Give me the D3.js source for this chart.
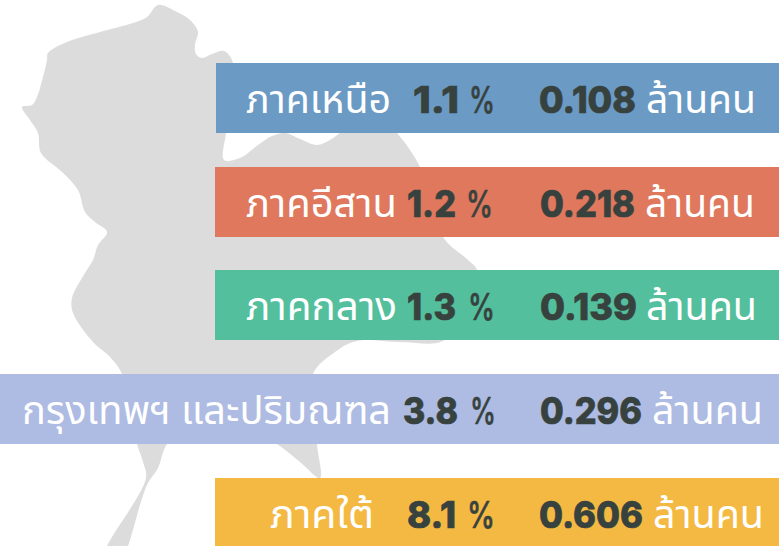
<!DOCTYPE html>
<html>
<head>
<meta charset="utf-8">
<script src="https://cdn.jsdelivr.net/npm/d3@7"></script>
<style>
html, body { margin: 0; padding: 0; background: #fff; }
svg { display: block; }
</style>
</head>
<body>
<div id="chart"></div>
<script>
// values
const regions = ["ภาคเหนือ", "ภาคอีสาน", "ภาคกลาง", "กรุงเทพฯ และปริมณฑล", "ภาคใต้"]
const percents = ["1.1", "1.2", "1.3", "3.8", "8.1"]
const millions = ["0.108", "0.218", "0.139", "0.296", "0.606"]
const colors = ["#6b9ac4", "#df785c", "#53bf9d", "#aebbe2", "#f4b942"]
const unitLabel = "ล้านคน"

// background silhouette of the country
const outline = [[158,5],[175,11],[190,20],[198,32],[195,44],[196,54],[202,58],[212,54],[224,51],[232,60],
    [234,80],[229,110],[226,133],[224,160],[240,158],[258,145],[272,136],[285,133],[300,139],[317,145],[330,140],[343,131],
    [365,120],[385,122],[397,133],[420,167],[443,237],[468,260],[477,270],[470,310],[443,341],[400,342],[357,341],
    [335,352],[313,374],[316,410],[317,444],[320,478],[300,462],[277,444],[240,425],[190,425],[167,444],[158,468],[147,485],
    [128,546],[120,565],[100,565],[107,546],[146,478],[143,462],[137,444],[125,395],[122,374],[110,357],[93,342],[73,313],[72,298],[85,273],
    [93,260],[98,245],[107,232],[95,222],[85,212],[78,190],[62,172],[41,153],[38,133],[30,120],[22,107],[32,105],[37,97],[43,77],[47,60],[48,53],[67,42],[100,32],[133,23],[147,17]]

// horizontal extents of each text, per row
const barLeft = [216, 215, 215, 0, 215]
const labelX = [[246, 391], [246, 397], [246, 397], [22, 391], [270, 374]]
const pctX = [[413, 459], [407, 456], [407, 456], [403, 458], [407, 456]]
const signX = [[469, 495], [466, 493], [468, 495], [470, 496], [467, 495]]
const millX = [[539, 636], [540, 635], [540, 637], [540, 642], [539, 643]]
const unitX = [[646, 756], [645, 755], [646, 757], [652, 763], [653, 764]]

const width = 779, height = 546
const barHeight = 70
const thaiFont = "'Noto Sans Thai', 'Noto Sans', 'DejaVu Sans', sans-serif"
const numFont = "Inter, sans-serif"

const svg = d3.select("#chart").append("svg")
    .attr("width", width)
    .attr("height", height)

svg.append("path")
    .attr("d", d3.line().curve(d3.curveCatmullRomClosed.alpha(0.5))(outline))
    .attr("fill", "#dcdcdc")

const y = d3.scaleBand()
    .domain(regions)
    .range([63, 63 + 4 * 103.7 + barHeight])
    .paddingInner(1 - barHeight / 103.7)
    .paddingOuter(0)
    .align(0)

const rows = svg.selectAll(".row")
    .data(regions)
    .enter().append("g")
    .attr("class", "row")

rows.append("rect")
    .attr("x", (d, i) => barLeft[i])
    .attr("y", d => Math.round(y(d)))
    .attr("width", (d, i) => width - barLeft[i])
    .attr("height", barHeight)
    .style("fill", (d, i) => colors[i])

function addText(text, extent, font, size, weight, fill, stroke) {
    rows.append("text")
        .attr("x", (d, i) => extent[i][0])
        .attr("y", d => Math.round(y(d)) + 50)
        .attr("textLength", (d, i) => extent[i][1] - extent[i][0])
        .attr("lengthAdjust", "spacingAndGlyphs")
        .style("font-family", font)
        .style("font-size", size + "px")
        .style("font-weight", weight)
        .style("fill", fill)
        .style("stroke", fill)
        .style("stroke-width", stroke)
        .text(text)
}

addText(d => d, labelX, thaiFont, 40, 400, "#fff", 0)
addText((d, i) => percents[i], pctX, numFont, 37, 800, "#37423f", 0.7)
addText("%", signX, numFont, 37, 500, "#37423f", 0.6)
addText((d, i) => millions[i], millX, numFont, 37, 800, "#37423f", 0.7)
addText(unitLabel, unitX, thaiFont, 40, 400, "#fff", 0)
</script>
</body>
</html>
